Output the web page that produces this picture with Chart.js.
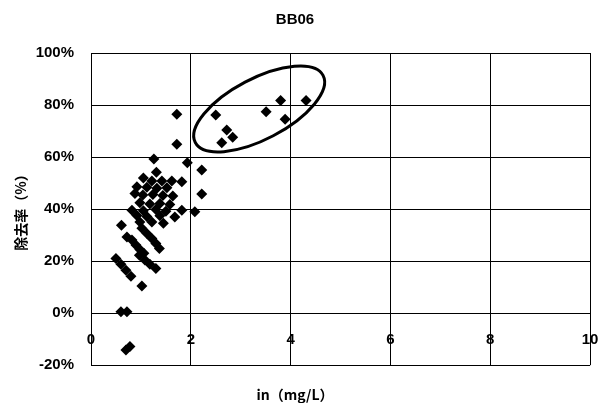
<!DOCTYPE html>
<html>
<head>
<meta charset="utf-8">
<script src="https://cdn.jsdelivr.net/npm/chart.js@4"></script>
<style>
  html, body { margin: 0; padding: 0; background: #fff; }
</style>
</head>
<body>
<canvas id="bbChart" width="599" height="403"></canvas>
<script>
// inlet concentration (mg/L) and removal rate (%) for each sample
const inletConc = [
  1.72, 1.72, 1.26, 1.93, 2.22, 1.31, 1.05,
  1.22, 1.42, 1.62, 1.82, 2.22,
  0.92, 1.12, 1.32, 1.52,
  0.88, 1.04, 1.24, 1.44, 1.64,
  0.98, 1.18, 1.38, 1.58,
  1.82, 2.08, 0.82, 1.05, 1.30, 1.50, 1.68,
  0.92, 1.12, 1.38, 0.98, 1.22, 1.45,
  0.61, 0.72,
  1.02, 1.12, 1.22, 1.30, 1.37,
  0.82, 0.90, 0.98, 1.06,
  0.97, 1.08, 1.18, 1.30,
  0.50, 0.60, 0.70, 0.80,
  1.02, 0.60, 0.72, 0.70, 0.78,
  2.50, 3.51, 3.80, 4.31, 3.89, 2.72, 2.84, 2.62
];
const removalRate = [
  76.5, 64.9, 59.3, 57.8, 55.0, 54.2, 52.0,
  50.8, 50.8, 50.8, 50.5, 45.8,
  48.6, 48.4, 48.0, 48.2,
  46.0, 45.4, 45.6, 45.2, 45.0,
  42.4, 42.0, 42.2, 41.8,
  39.6, 39.0, 39.6, 39.4, 39.8, 39.2, 37.0,
  37.5, 37.2, 37.4, 35.0, 35.0, 34.6,
  33.8, 29.3,
  32.6, 30.6, 28.7, 26.8, 24.9,
  28.1, 26.2, 24.5, 23.0,
  22.3, 20.4, 18.8, 17.2,
  21.0, 18.8, 16.5, 14.2,
  10.4, 0.5, 0.5, -14.2, -12.8,
  76.2, 77.4, 81.7, 81.7, 74.5, 70.4, 67.6, 65.5
];

const xRange = [0, 10, 2];
const yRange = [-20, 100, 20];

// outline around the high-concentration group: centre, end of major axis, minor/major ratio
const ringCentre = [3.37, 78.5];
const ringTip = [4.65, 91.4];
const ringRatio = 0.42;

const points = inletConc.map((x, i) => ({ x: x, y: removalRate[i] }));

const numFont = "'Liberation Sans', Arial, sans-serif";
const jpFont = "'Noto Sans CJK JP', 'Liberation Sans', sans-serif";

const ringPlugin = {
  id: 'ring',
  afterDatasetsDraw(chart) {
    const { ctx } = chart;
    const xs = chart.scales.x, ys = chart.scales.y;
    const cx = xs.getPixelForValue(ringCentre[0]);
    const cy = ys.getPixelForValue(ringCentre[1]);
    const tx = xs.getPixelForValue(ringTip[0]);
    const ty = ys.getPixelForValue(ringTip[1]);
    const a = Math.hypot(tx - cx, ty - cy);
    ctx.save();
    ctx.beginPath();
    ctx.ellipse(cx, cy, a, a * ringRatio, Math.atan2(ty - cy, tx - cx), 0, Math.PI * 2);
    ctx.lineWidth = 3;
    ctx.strokeStyle = '#000';
    ctx.stroke();
    ctx.restore();
  }
};

new Chart(document.getElementById('bbChart').getContext('2d'), {
  type: 'scatter',
  data: {
    datasets: [{
      label: 'BB06',
      data: points,
      pointStyle: 'rectRot',
      pointRadius: 5.5,
      backgroundColor: '#000',
      borderColor: '#000',
      borderWidth: 0
    }]
  },
  plugins: [ringPlugin],
  options: {
    responsive: false,
    animation: false,
    layout: { padding: { left: 0, right: 9, top: 0, bottom: 0 } },
    plugins: {
      legend: { display: false },
      tooltip: { enabled: false },
      title: {
        display: true,
        text: 'BB06',
        color: '#000',
        font: { family: "'Liberation Sans', Arial, sans-serif", size: 15, weight: 'bold' },
        padding: { top: 11, bottom: 24 }
      },
      subtitle: {
        display: true,
        position: 'bottom',
        text: 'in（mg/L）',
        color: '#000',
        font: { family: jpFont, size: 14, weight: 'bold' },
        padding: { top: 21, bottom: 0 }
      }
    },
    scales: {
      x: {
        type: 'linear',
        position: { y: 0 },
        min: xRange[0],
        max: xRange[1],
        // end labels may hang past the plot edge; keep the plot full width
        afterFit(scale) { scale.paddingLeft = 0; scale.paddingRight = 0; },
        ticks: {
          stepSize: xRange[2],
          color: '#000',
          padding: 18,
          maxRotation: 0,
          font: { family: numFont, size: 15, weight: 'bold' }
        },
        grid: { color: '#000', lineWidth: 1, drawTicks: false },
        border: { color: '#000', width: 1 }
      },
      y: {
        type: 'linear',
        min: yRange[0],
        max: yRange[1],
        afterFit(scale) { scale.width = 91; },
        ticks: {
          stepSize: yRange[2],
          color: '#000',
          padding: 17,
          font: { family: numFont, size: 15, weight: 'bold' },
          callback: v => v + '%'
        },
        grid: { color: '#000', lineWidth: 1, drawTicks: false },
        border: { color: '#000', width: 1 },
        title: {
          display: true,
          text: '除去率（%）',
          color: '#000',
          font: { family: jpFont, size: 14, weight: 'bold' },
          padding: { top: 12, bottom: 0 }
        }
      }
    }
  }
});
</script>
</body>
</html>
